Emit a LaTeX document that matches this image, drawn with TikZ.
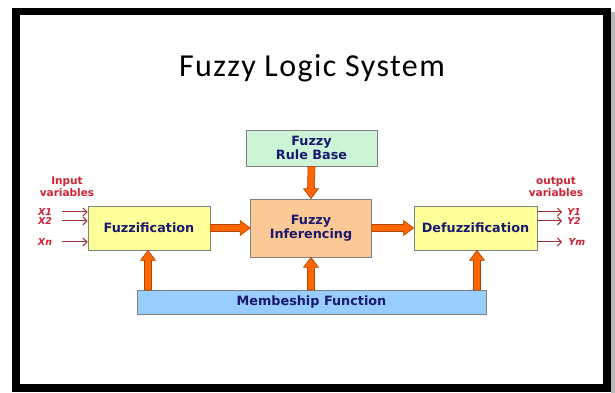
\documentclass[tikz,border=0pt]{standalone}
\usepackage{fontspec}
\setmainfont{DejaVu Sans}
\newfontfamily\titlefont[LetterSpace=4.5]{Carlito}
\usetikzlibrary{arrows.meta}

\definecolor{boxyellow}{HTML}{FFFF99}
\definecolor{boxpeach}{HTML}{FBC896}
\definecolor{boxgreen}{HTML}{CCF5D8}
\definecolor{boxblue}{HTML}{99CCFF}
\definecolor{boxedge}{HTML}{808080}
\definecolor{navytext}{HTML}{1A1A6E}
\definecolor{labelred}{HTML}{CC2233}
\definecolor{wirered}{HTML}{993333}
\definecolor{arroworange}{HTML}{FF6600}
\definecolor{arrowedge}{HTML}{B04600}

% block arrows: shaft half-width 3.5pt, head half-width 7.5pt, head length 10pt
\newcommand\blkup[2]{%
  \draw[blk] ([xshift=-3.5pt]#1) -- ([shift={(-3.5pt,-10pt)}]#2) -- ([shift={(-7.5pt,-10pt)}]#2)
    -- (#2) -- ([shift={(7.5pt,-10pt)}]#2) -- ([shift={(3.5pt,-10pt)}]#2) -- ([xshift=3.5pt]#1) -- cycle;}
\newcommand\blkdown[2]{%
  \draw[blk] ([xshift=-3.5pt]#1) -- ([shift={(-3.5pt,10pt)}]#2) -- ([shift={(-7.5pt,10pt)}]#2)
    -- (#2) -- ([shift={(7.5pt,10pt)}]#2) -- ([shift={(3.5pt,10pt)}]#2) -- ([xshift=3.5pt]#1) -- cycle;}
\newcommand\blkright[2]{%
  \draw[blk] ([yshift=3.5pt]#1) -- ([shift={(-10pt,3.5pt)}]#2) -- ([shift={(-10pt,7.5pt)}]#2)
    -- (#2) -- ([shift={(-10pt,-7.5pt)}]#2) -- ([shift={(-10pt,-3.5pt)}]#2) -- ([yshift=-3.5pt]#1) -- cycle;}

\begin{document}
\begin{tikzpicture}[x=1pt,y=1pt,
  block/.style={draw=boxedge, line width=0.8pt, align=center, inner sep=0pt,
    text=navytext, font=\fontsize{12.8}{14}\selectfont\bfseries},
  blk/.style={draw=arrowedge, fill=arroworange, line width=0.6pt, line join=miter},
  wire/.style={draw=wirered, line width=1pt, -{Straight Barb[length=4pt,width=8pt]}},
  varlabel/.style={text=labelred, font=\fontsize{10.5}{12}\selectfont\bfseries, inner sep=0pt},
  sublabel/.style={text=labelred, font=\fontsize{9.5}{11}\selectfont\bfseries\itshape, inner sep=0pt}]

\useasboundingbox (0,0) rectangle (615,393);
\fill[white] (0,0) rectangle (615,393);

% slide frame with its shadow
\fill[gray!55] (611,0) rectangle (615,381);
\fill[black] (12,1) rectangle (611,385);
\fill[white] (20,9) rectangle (603,378);

% title
\node[font=\titlefont\fontsize{32}{36}\selectfont, anchor=base, inner sep=0pt] (title) at (312,316) {Fuzzy Logic System};

% blocks
\node[block, fill=boxgreen, minimum width=131pt, minimum height=36pt] (rb) at (311.5,245) {Fuzzy\\Rule Base};
\node[block, fill=boxyellow, minimum width=122pt, minimum height=44pt] (fz) at (149,165) {Fuzzification};
\node[block, fill=boxpeach, minimum width=121pt, minimum height=58pt] (inf) at (311,165) {Fuzzy\\Inferencing};
\node[block, fill=boxyellow, minimum width=123pt, minimum height=44pt] (dfz) at (475.5,165) {Defuzzification};
\node[block, fill=boxblue, minimum width=349pt, minimum height=24pt] (mf) at (311.5,91) {Membeship Function};

% block arrows between stages
\blkright{fz.east}{inf.west}
\blkright{inf.east}{dfz.west}
\blkdown{rb.south}{inf.north}

\coordinate (m1) at (148,103);
\coordinate (m2) at (311,103);
\coordinate (m3) at (477,103);
\coordinate (t1) at (m1 |- fz.south);
\coordinate (t2) at (m2 |- inf.south);
\coordinate (t3) at (m3 |- dfz.south);
\blkup{m1}{t1}
\blkup{m2}{t2}
\blkup{m3}{t3}

% input variables
\node[varlabel] (inlab1) at (67,211) {Input};
\node[varlabel] (inlab2) at (67,200) {variables};
\coordinate (x1) at (62,181);
\coordinate (x2) at (62,172);
\coordinate (xn) at (62,151);
\draw[wire] (x1) -- (x1 -| fz.west);
\draw[wire] (x2) -- (x2 -| fz.west);
\draw[wire] (xn) -- (xn -| fz.west);
\node[sublabel] (lx1) at (45,181) {X1};
\node[sublabel] (lx2) at (45,172) {X2};
\node[sublabel] (lxn) at (45,151) {Xn};

% output variables
\node[varlabel] (outlab1) at (556,211) {output};
\node[varlabel] (outlab2) at (556,200) {variables};
\coordinate (y1) at (562,181);
\coordinate (y2) at (562,172);
\coordinate (ym) at (562,151);
\draw[wire] (y1 -| dfz.east) -- (y1);
\draw[wire] (y2 -| dfz.east) -- (y2);
\draw[wire] (ym -| dfz.east) -- (ym);
\node[sublabel] (ly1) at (574,181) {Y1};
\node[sublabel] (ly2) at (574,172) {Y2};
\node[sublabel] (lym) at (577,151) {Ym};

\end{tikzpicture}
\end{document}
